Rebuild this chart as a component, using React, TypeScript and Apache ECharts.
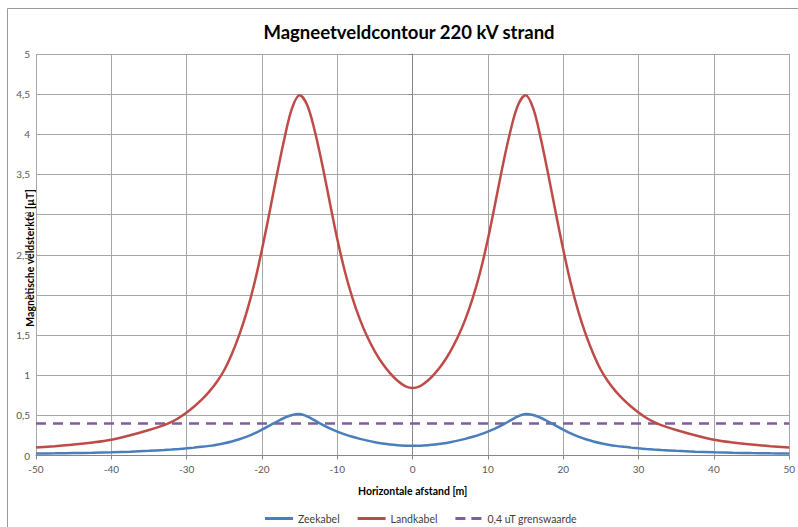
import React, { useEffect, useRef } from "react";
import * as echarts from "echarts";

const xValues = [-50,-47.5,-45,-42.5,-40,-37.5,-35,-33,-32,-31,-30,-29,-28,-27,-26,-25,-24,-23,-22,-21,-20,-19,-18,-17,-16,-15,-14,-13,-12,-11,-10,-9,-8,-7,-6,-5,-4,-3,-2,-1,0,1,2,3,4,5,6,7,8,9,10,11,12,13,14,15,16,17,18,19,20,21,22,23,24,25,26,27,28,29,30,31,32,33,35,37.5,40,42.5,45,47.5,50];

const landkabel = [0.1,0.116,0.136,0.162,0.197,0.252,0.318,0.378,0.418,0.47,0.535,0.61,0.695,0.795,0.915,1.065,1.265,1.505,1.795,2.145,2.565,3.025,3.505,3.955,4.325,4.485,4.365,4.045,3.625,3.155,2.695,2.295,1.965,1.695,1.475,1.295,1.145,1.025,0.93,0.865,0.84,0.865,0.93,1.025,1.145,1.295,1.475,1.695,1.965,2.295,2.695,3.155,3.625,4.045,4.365,4.485,4.325,3.955,3.505,3.025,2.565,2.145,1.795,1.505,1.265,1.065,0.915,0.795,0.695,0.61,0.535,0.47,0.418,0.378,0.318,0.252,0.197,0.162,0.136,0.116,0.1];

const zeekabel = [0.025,0.027,0.03,0.034,0.04,0.048,0.058,0.068,0.074,0.081,0.089,0.098,0.108,0.12,0.135,0.153,0.175,0.202,0.235,0.275,0.322,0.372,0.423,0.47,0.505,0.518,0.487,0.437,0.385,0.338,0.298,0.263,0.233,0.207,0.185,0.166,0.15,0.137,0.128,0.122,0.12,0.122,0.128,0.137,0.15,0.166,0.185,0.207,0.233,0.263,0.298,0.338,0.385,0.437,0.487,0.518,0.505,0.47,0.423,0.372,0.322,0.275,0.235,0.202,0.175,0.153,0.135,0.12,0.108,0.098,0.089,0.081,0.074,0.068,0.058,0.048,0.04,0.034,0.03,0.027,0.025];

const limitX = [-50, 50];
const limitValues = [0.4, 0.4];

const seriesNames = ["Zeekabel", "Landkabel", "0,4 uT grenswaarde"];
const titleText = "Magneetveldcontour 220 kV strand";
const xAxisTitle = "Horizontale afstand [m]";
const yAxisTitle = "Magnetische veldsterkte [\u00b5T]";

const FONT = "Lato, 'Open Sans', sans-serif";
const BLUE = "#4a7ebb";
const RED = "#be4b48";
const PURPLE = "#7d5fa0";

export default function App() {
  const ref = useRef<HTMLDivElement>(null);
  useEffect(() => {
    if (!ref.current) return;
    const chart = echarts.init(ref.current, undefined, { renderer: "svg" });
    const pairs = (xs: number[], ys: number[]) => xs.map((x, i) => [x, ys[i]]);
    const fmt = (v: number) => String(v).replace(".", ",");
    chart.setOption({
      animation: false,
      backgroundColor: "#ffffff",
      textStyle: { fontFamily: FONT },
      title: {
        text: titleText,
        left: 404,
        textAlign: "center",
        top: 17,
        textStyle: { fontFamily: FONT, fontSize: 18.5, fontWeight: "bold", color: "#000000" },
      },
      graphic: [
        {
          type: "line",
          shape: { x1: 7.5, y1: 8.5, x2: 798, y2: 8.5 },
          style: { stroke: "#9a9a9a", lineWidth: 1 },
          silent: true,
        },
        {
          type: "line",
          shape: { x1: 7.5, y1: 8.5, x2: 7.5, y2: 527 },
          style: { stroke: "#9a9a9a", lineWidth: 1 },
          silent: true,
        },
        {
          type: "text",
          x: 30,
          y: 258,
          rotation: Math.PI / 2,
          style: {
            text: yAxisTitle,
            x: 0,
            y: 0,
            align: "center",
            verticalAlign: "middle",
            fontFamily: FONT,
            fontSize: 10.5,
            fontWeight: "bold",
            fill: "#000000",
          },
        },
      ],
      legend: {
        left: 260,
        top: 508,
        itemWidth: 28,
        itemHeight: 3,
        itemGap: 18,
        textStyle: { fontFamily: FONT, fontSize: 10.5, color: "#404040" },
        data: [
          { name: seriesNames[0], icon: "rect" },
          { name: seriesNames[1], icon: "rect" },
          { name: seriesNames[2], icon: "path://M0,0h10v3h-10z M16,0h10v3h-10z" },
        ],
      },
      grid: { left: 36, right: 8, top: 54, bottom: 71.5, containLabel: false },
      xAxis: {
        type: "value",
        min: -50,
        max: 50,
        interval: 10,
        name: xAxisTitle,
        nameLocation: "middle",
        nameGap: 30,
        nameTextStyle: { fontFamily: FONT, fontSize: 10.5, fontWeight: "bold", color: "#000000" },
        axisLine: { onZero: true, lineStyle: { color: "#868686", width: 1 } },
        axisTick: { show: true, length: 4, lineStyle: { color: "#868686" } },
        axisLabel: { fontFamily: FONT, fontSize: 10, color: "#595959", margin: 8 },
        splitLine: { show: true, lineStyle: { color: "#a6a6a6", width: 1 } },
      },
      yAxis: {
        type: "value",
        min: 0,
        max: 5,
        interval: 0.5,
        axisLine: { show: true, onZero: true, lineStyle: { color: "#868686", width: 1 } },
        axisTick: { show: true, length: 4, lineStyle: { color: "#868686" } },
        axisLabel: { fontFamily: FONT, fontSize: 10, color: "#595959", margin: 6, formatter: fmt },
        splitLine: { show: true, lineStyle: { color: "#a6a6a6", width: 1 } },
      },
      series: [
        {
          name: seriesNames[0],
          type: "line",
          data: pairs(xValues, zeekabel),
          smooth: 0.35,
          symbol: "none",
          lineStyle: { color: BLUE, width: 2.5 },
          itemStyle: { color: BLUE },
          z: 3,
        },
        {
          name: seriesNames[1],
          type: "line",
          data: pairs(xValues, landkabel),
          smooth: 0.35,
          symbol: "none",
          lineStyle: { color: RED, width: 2.5 },
          itemStyle: { color: RED },
          z: 3,
        },
        {
          name: seriesNames[2],
          type: "line",
          data: pairs(limitX, limitValues),
          symbol: "none",
          lineStyle: { color: PURPLE, width: 2.5, type: [10, 7] },
          itemStyle: { color: PURPLE },
          z: 2,
        },
      ],
    });
    return () => chart.dispose();
  }, []);
  return (
    <div
      ref={ref}
      style={{ position: "absolute", left: 0, top: 0, width: 798, height: 527 }}
    />
  );
}
